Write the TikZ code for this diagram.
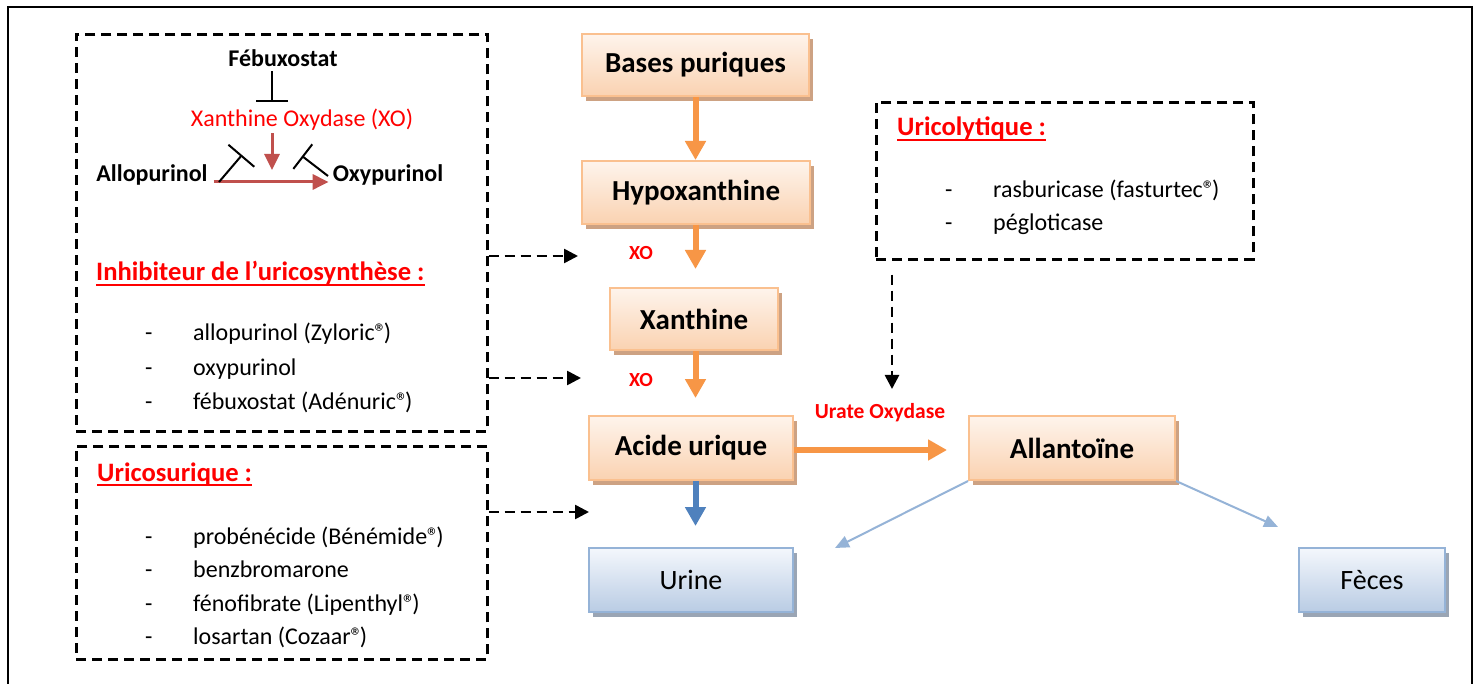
\documentclass[tikz,border=0pt]{standalone}
\usepackage{fontspec}
\setmainfont{Carlito}
\usetikzlibrary{arrows.meta,shadows,calc}
\definecolor{orA}{HTML}{F79646}
\definecolor{orBorder}{HTML}{FAC08F}
\definecolor{orTop}{HTML}{FEF4EC}
\definecolor{orBot}{HTML}{FAD2B1}
\definecolor{orShadow}{HTML}{CDA283}
\definecolor{blBorder}{HTML}{95B3D7}
\definecolor{blTop}{HTML}{F4F7FC}
\definecolor{blBot}{HTML}{B9CCE4}
\definecolor{blShadow}{HTML}{9AA5B4}
\definecolor{blA}{HTML}{4F81BD}
\definecolor{blThin}{HTML}{95B3D7}
\definecolor{xoRed}{HTML}{C0504D}
\newcommand{\regmark}{®\kern-3pt}
\tikzset{
  obox/.style={draw=orBorder, line width=2pt, top color=orTop, bottom color=orBot,
    drop shadow={shadow xshift=4pt, shadow yshift=-5pt, fill=orShadow, opacity=1},
    font=\fontsize{29}{34}\selectfont\bfseries, inner sep=0},
  bbox/.style={draw=blBorder, line width=2pt, top color=blTop, bottom color=blBot,
    drop shadow={shadow xshift=4pt, shadow yshift=-5pt, fill=blShadow, opacity=1},
    font=\fontsize{28}{33}\selectfont, inner sep=0},
  dbox/.style={draw, line width=2.6pt, dash pattern=on 10pt off 6pt, anchor=north west, inner sep=0},
  darrow/.style={draw, line width=2.6pt, dash pattern=on 10pt off 6pt, -{Triangle[length=14pt,width=14pt]}},
  oarrow/.style={draw=orA, line width=6pt, -{Triangle[length=19pt,width=20pt]}},
  barrow/.style={draw=blA, line width=6pt, -{Triangle[length=19pt,width=20pt]}},
  tarrow/.style={draw=blThin, line width=2pt, -{Triangle[length=14pt,width=12pt]}},
  rarrow/.style={draw=xoRed, line width=3pt, -{Triangle[length=16pt,width=15pt]}},
  inhib/.style={draw, line width=2pt},
  item/.style={font=\fontsize{24}{28}\selectfont, anchor=base west, inner sep=0},
  head/.style={font=\fontsize{26.6}{30}\selectfont\bfseries, text=red, anchor=base west, inner sep=0},
  small/.style={font=\fontsize{24}{28}\selectfont\bfseries, anchor=base, inner sep=0},
  redlbl/.style={font=\fontsize{20}{24}\selectfont\bfseries, text=red, inner sep=0},
}
\begin{document}
\begin{tikzpicture}[x=1pt,y=-1pt]
\clip (0,0) rectangle (1480,684);
\fill[white] (0,0) rectangle (1480,684);
% outer frame
\draw[line width=2pt] (8,720) -- (8,7) -- (1472,7) -- (1472,720);

% dashed boxes
\node[dbox, minimum width=411pt, minimum height=397pt] (inh) at (75,33) {};
\node[dbox, minimum width=411pt, minimum height=213pt] (ucs) at (75,445) {};
\node[dbox, minimum width=377pt, minimum height=157pt] (ucl) at (875,101) {};

% inner diagram
\node[small] (feb) at (283,67) {Fébuxostat};
\node[font=\fontsize{24}{28}\selectfont, text=red, anchor=base, inner sep=0] (xo) at (302,127) {Xanthine Oxydase (XO)};
\node[small] (allo) at (152,182) {Allopurinol};
\node[small] (oxy) at (388,182) {Oxypurinol};
\coordinate (inb) at (272,102);
\coordinate (xoend) at (272,170);
\draw[inhib, -{Bar[width=32pt]}] ([yshift=-4pt]feb.south -| inb) -- (inb);
\draw[rarrow] ([yshift=-2pt]xo.south -| xoend) -- (xoend);
\draw[rarrow, shorten <=6pt, shorten >=4pt] (allo.base east) -- (oxy.base west);
\coordinate (ia1) at (219,182);
\coordinate (ia2) at (242,155);
\coordinate (ib1) at (328,176);
\coordinate (ib2) at (302,156);
\draw[inhib, -{Bar[width=34pt]}] (ia1) -- (ia2);
\draw[inhib, -{Bar[width=31pt]}] (ib1) -- (ib2);

% headings
\node[head] (h1) at (96,281) {Inhibiteur de l’uricosynthèse :};
\draw[red, line width=2pt] ([yshift=-4pt]h1.base west) -- ([yshift=-4pt]h1.base east);
\node[head] (h2) at (97,481) {Uricosurique :};
\draw[red, line width=2pt] ([yshift=-4pt]h2.base west) -- ([yshift=-4pt]h2.base east);
\node[head] (h3) at (897,136) {Uricolytique :};
\draw[red, line width=2pt] ([yshift=-4pt]h3.base west) -- ([yshift=-4pt]h3.base east);

% lists
\foreach \t/\y/\n in {allopurinol (Zyloric\regmark)/341/a, oxypurinol/375/b, fébuxostat (Adénuric\regmark)/409/c}{
  \node[item] (d1\n) at (145,\y) {-};
  \node[item] (l1\n) at (193,\y) {\t};
}
\foreach \t/\y/\n in {probénécide (Bénémide\regmark)/544/a, benzbromarone/577/b, fénofibrate (Lipenthyl\regmark)/611/c, losartan (Cozaar\regmark)/644/d}{
  \node[item] (d2\n) at (145,\y) {-};
  \node[item] (l2\n) at (193,\y) {\t};
}
\foreach \t/\y/\n in {rasburicase (fasturtec\regmark)/198/a, pégloticase/231/b}{
  \node[item] (d3\n) at (945,\y) {-};
  \node[item] (l3\n) at (993,\y) {\t};
}

% main boxes
\node[obox, minimum width=227pt, minimum height=62pt] (bases) at (695.5,65) {Bases puriques};
\node[obox, minimum width=228pt, minimum height=63pt] (hypo) at (696,192.5) {Hypoxanthine};
\node[obox, minimum width=168pt, minimum height=62pt] (xan) at (694,319) {Xanthine};
\node[obox, minimum width=204pt, minimum height=64pt] (acide) at (691,448) {Acide urique};
\node[obox, minimum width=206pt, minimum height=64pt] (allan) at (1072,448) {Allantoïne};
\node[bbox, minimum width=204pt, minimum height=64pt] (urine) at (691,580) {Urine};
\node[bbox, minimum width=146pt, minimum height=64pt] (feces) at (1372,580) {Fèces};

% orange arrows
\draw[oarrow] (bases.south) -- (hypo.north -| bases.south);
\draw[oarrow, shorten >=18pt] (hypo.south -| bases.south) -- (xan.north -| bases.south);
\draw[oarrow, shorten >=17pt] (xan.south -| bases.south) -- (acide.north -| bases.south);
\draw[oarrow, shorten >=21pt] ([yshift=-2pt]acide.east) -- ([yshift=-2pt]allan.west);
\draw[barrow, shorten >=21pt] (acide.south -| bases.south) -- (urine.north -| bases.south);

% labels
\node[redlbl] (xo1) at (641,253) {XO};
\node[redlbl] (xo2) at (641,380) {XO};
\node[redlbl, font=\fontsize{21.5}{25}\selectfont\bfseries] (uox) at (880,413) {Urate Oxydase};

% thin blue arrows
\coordinate (tu) at (835,548);
\coordinate (tf) at (1278,527);
\draw[tarrow] (allan.south west) -- (tu);
\draw[tarrow] (allan.south east) -- (tf);

% dashed arrows
\coordinate (t1) at (578,256);
\coordinate (t2) at (581,378);
\coordinate (t3) at (589,512);
\coordinate (t4) at (892,389);
\draw[darrow] (inh.east |- t1) -- (t1);
\draw[darrow] (inh.east |- t2) -- (t2);
\draw[darrow] (ucs.east |- t3) -- (t3);
\draw[darrow] ([yshift=-14pt]ucl.south -| t4) -- (t4);
\end{tikzpicture}
\end{document}
